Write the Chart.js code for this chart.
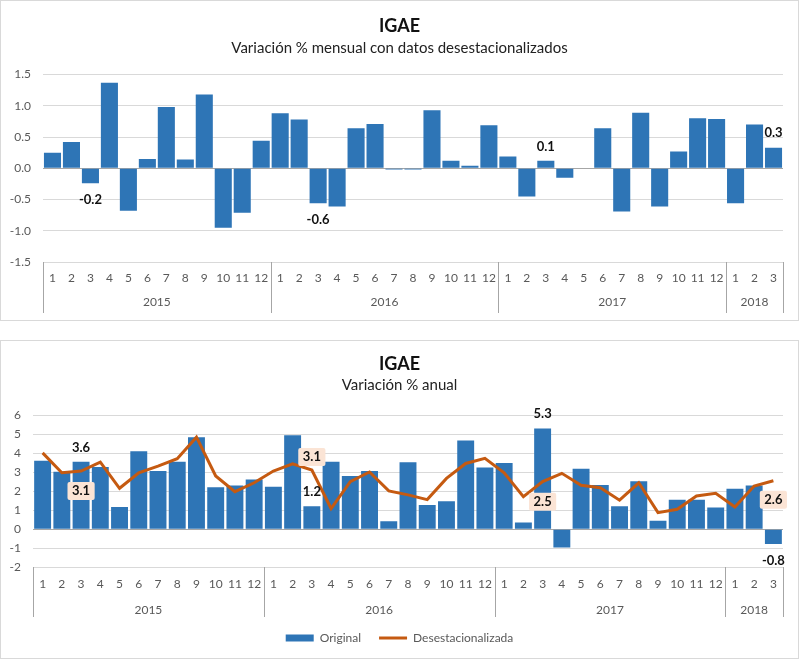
<!DOCTYPE html>
<html>
<head>
<meta charset="utf-8">
<script src="https://cdn.jsdelivr.net/npm/chart.js@4.4.1/dist/chart.umd.min.js"></script>
<style>
  body { margin: 0; background: #fff; }
  .panel { position: absolute; left: 0; width: 797px; border: 1px solid #d9d9d9; background: #fff; }
  #p1 { top: 0; height: 319px; }
  #p2 { top: 340px; height: 317px; }
  canvas { display: block; }
</style>
</head>
<body>
<div class="panel" id="p1"><canvas id="mensual" width="797" height="319"></canvas></div>
<div class="panel" id="p2"><canvas id="anual" width="797" height="317"></canvas></div>
<script>
// categorias (mes) y grupos (año)
const meses = ["1","2","3","4","5","6","7","8","9","10","11","12",
               "1","2","3","4","5","6","7","8","9","10","11","12",
               "1","2","3","4","5","6","7","8","9","10","11","12",
               "1","2","3"];
const anios = ["2015", "2016", "2017", "2018"];
const mesesPorAnio = [12, 12, 12, 3];

// variacion % mensual, cifras desestacionalizadas
const varMensual = [0.25, 0.42, -0.24, 1.37, -0.68, 0.15, 0.98, 0.14, 1.18, -0.95, -0.71, 0.44,
                    0.88, 0.78, -0.56, -0.61, 0.64, 0.71, -0.02, -0.02, 0.93, 0.12, 0.04, 0.69,
                    0.19, -0.45, 0.12, -0.15, 0.0, 0.64, -0.69, 0.89, -0.61, 0.27, 0.80, 0.79,
                    -0.56, 0.70, 0.33];

// variacion % anual
const anualOriginal = [3.61, 3.03, 3.56, 3.28, 1.17, 4.12, 3.07, 3.56, 4.86, 2.21, 2.30, 2.63,
                       2.24, 4.96, 1.21, 3.56, 2.81, 3.07, 0.42, 3.53, 1.28, 1.47, 4.68, 3.26,
                       3.49, 0.35, 5.32, -0.97, 3.19, 2.33, 1.21, 2.53, 0.44, 1.56, 1.56, 1.14,
                       2.14, 2.30, -0.79];
const anualDesest = [4.03, 2.98, 3.07, 3.54, 2.16, 2.98, 3.33, 3.72, 4.86, 2.81, 1.98, 2.45,
                     3.07, 3.45, 3.12, 1.09, 2.51, 3.02, 2.02, 1.81, 1.56, 2.68, 3.47, 3.74,
                     2.98, 1.72, 2.51, 2.95, 2.32, 2.19, 1.53, 2.45, 0.87, 1.05, 1.75, 1.89,
                     1.17, 2.28, 2.56];

const azul = "#2e75b6";
const naranja = "#c55a11";
const gris = "#595959";
const fuente = "Lato";

Chart.defaults.font.family = fuente;
Chart.defaults.color = gris;

// eje de dos niveles: separadores y años debajo de los meses
const ejeAnios = {
  id: "ejeAnios",
  afterDraw(chart, args, opts) {
    const x = chart.scales.x;
    const ctx = chart.ctx;
    const abajo = chart.chartArea.bottom;
    const paso = x.getPixelForValue(1) - x.getPixelForValue(0);
    ctx.save();
    ctx.strokeStyle = "#a6a6a6";
    ctx.lineWidth = 1;
    ctx.fillStyle = gris;
    ctx.font = "12px " + fuente;
    ctx.textAlign = "center";
    ctx.textBaseline = "middle";
    let inicio = 0;
    const bordes = [];
    for (let k = 0; k < anios.length; k++) {
      const x0 = x.getPixelForValue(inicio) - paso / 2;
      const x1 = x.getPixelForValue(inicio + mesesPorAnio[k] - 1) + paso / 2;
      bordes.push(x0);
      if (k === anios.length - 1) bordes.push(x1);
      ctx.fillText(anios[k], (x0 + x1) / 2, abajo + opts.yAnio);
      inicio += mesesPorAnio[k];
    }
    bordes.forEach((b) => {
      const bx = Math.round(b) + 0.5;
      ctx.beginPath();
      ctx.moveTo(bx, abajo);
      ctx.lineTo(bx, abajo + opts.largo);
      ctx.stroke();
    });
    ctx.restore();
  },
};

// etiquetas de datos puntuales
const etiquetas = {
  id: "etiquetas",
  afterDatasetsDraw(chart, args, opts) {
    const ctx = chart.ctx;
    ctx.save();
    ctx.font = "bold 13px " + fuente;
    ctx.textAlign = "center";
    ctx.textBaseline = "middle";
    opts.lista.forEach((e) => {
      const el = chart.getDatasetMeta(e.ds).data[e.i];
      const valor = chart.data.datasets[e.ds].data[e.i];
      const texto = valor.toFixed(1);
      const y = el.y + e.dy;
      if (e.caja) {
        const w = ctx.measureText(texto).width + 9;
        ctx.fillStyle = "#fbe4d5";
        ctx.beginPath();
        ctx.roundRect(el.x - w / 2, y - 9, w, 18, 2);
        ctx.fill();
      }
      ctx.fillStyle = "#111";
      ctx.fillText(texto, el.x, y);
    });
    ctx.restore();
  },
};

function colorGrid(c) {
  return c.tick && c.tick.value === 0 ? "#a6a6a6" : "#d9d9d9";
}

// margen derecho vacio para que titulo y leyenda queden centrados
const margenDerecho = {
  position: "right",
  grid: { display: false },
  border: { display: false },
  ticks: { display: false },
  afterFit(s) { s.width = 15; },
};

new Chart(document.getElementById("mensual"), {
  type: "bar",
  data: {
    labels: meses,
    datasets: [{
      label: "Mensual",
      data: varMensual,
      backgroundColor: azul,
      barPercentage: 0.9,
      categoryPercentage: 1.0,
    }],
  },
  options: {
    responsive: false,
    animation: false,
    layout: { padding: { top: 0, right: 0, bottom: 6, left: 0 } },
    plugins: {
      legend: { display: false },
      tooltip: { enabled: false },
      title: {
        display: true,
        text: "IGAE",
        color: "#111",
        font: { size: 18, weight: "bold" },
        padding: { top: 14, bottom: 2 },
      },
      subtitle: {
        display: true,
        text: "Variación % mensual con datos desestacionalizados",
        color: "#222",
        font: { size: 15 },
        padding: { top: 1, bottom: 17 },
      },
      ejeAnios: { yAnio: 40, largo: 51 },
      etiquetas: {
        lista: [
          { ds: 0, i: 2, dy: 17 },
          { ds: 0, i: 14, dy: 17 },
          { ds: 0, i: 26, dy: -14 },
          { ds: 0, i: 38, dy: -15 },
        ],
      },
    },
    scales: {
      x: {
        grid: { display: false },
        border: { display: false },
        ticks: { autoSkip: false, maxRotation: 0, padding: 1, font: { size: 12 } },
        afterFit(s) { s.height = 52; },
      },
      y: {
        min: -1.5,
        max: 1.5,
        grid: { color: colorGrid, drawTicks: false },
        border: { display: false },
        ticks: { stepSize: 0.5, padding: 12, font: { size: 12 }, callback: (v) => v.toFixed(1) },
        afterFit(s) { s.width = 42; },
      },
      margen: margenDerecho,
    },
  },
  plugins: [ejeAnios, etiquetas],
});

new Chart(document.getElementById("anual"), {
  type: "bar",
  data: {
    labels: meses,
    datasets: [
      {
        label: "Original",
        data: anualOriginal,
        backgroundColor: azul,
        barPercentage: 0.88,
        categoryPercentage: 1.0,
        pointStyle: "rect",
        order: 1,
      },
      {
        type: "line",
        label: "Desestacionalizada",
        data: anualDesest,
        borderColor: naranja,
        backgroundColor: naranja,
        borderWidth: 3,
        pointRadius: 0,
        pointStyle: "line",
        tension: 0,
        order: 0,
      },
    ],
  },
  options: {
    responsive: false,
    animation: false,
    layout: { padding: { top: 0, right: 0, bottom: 4, left: 0 } },
    plugins: {
      tooltip: { enabled: false },
      title: {
        display: true,
        text: "IGAE",
        color: "#111",
        font: { size: 18, weight: "bold" },
        padding: { top: 12, bottom: 1 },
      },
      subtitle: {
        display: true,
        text: "Variación % anual",
        color: "#222",
        font: { size: 15 },
        padding: { top: 1, bottom: 21 },
      },
      legend: {
        position: "bottom",
        labels: {
          usePointStyle: true,
          pointStyleWidth: 28,
          boxHeight: 7,
          padding: 18,
          color: gris,
          font: { size: 12 },
          sort: (a, b) => a.datasetIndex - b.datasetIndex,
        },
      },
      ejeAnios: { yAnio: 43, largo: 50 },
      etiquetas: {
        lista: [
          { ds: 0, i: 2, dy: -14 },
          { ds: 0, i: 14, dy: -14.5 },
          { ds: 0, i: 26, dy: -14.5 },
          { ds: 0, i: 38, dy: 17 },
          { ds: 1, i: 2, dy: 20, caja: true },
          { ds: 1, i: 14, dy: -13, caja: true },
          { ds: 1, i: 26, dy: 20, caja: true },
          { ds: 1, i: 38, dy: 19, caja: true },
        ],
      },
    },
    scales: {
      x: {
        grid: { display: false },
        border: { display: false },
        ticks: { autoSkip: false, maxRotation: 0, padding: 2, font: { size: 12 } },
        afterFit(s) { s.height = 47; },
      },
      y: {
        min: -2,
        max: 6,
        grid: { color: colorGrid, drawTicks: false },
        border: { display: false },
        ticks: { stepSize: 1, padding: 12, font: { size: 12 } },
        afterFit(s) { s.width = 32; },
      },
      margen: margenDerecho,
    },
  },
  plugins: [ejeAnios, etiquetas],
});
</script>
</body>
</html>
